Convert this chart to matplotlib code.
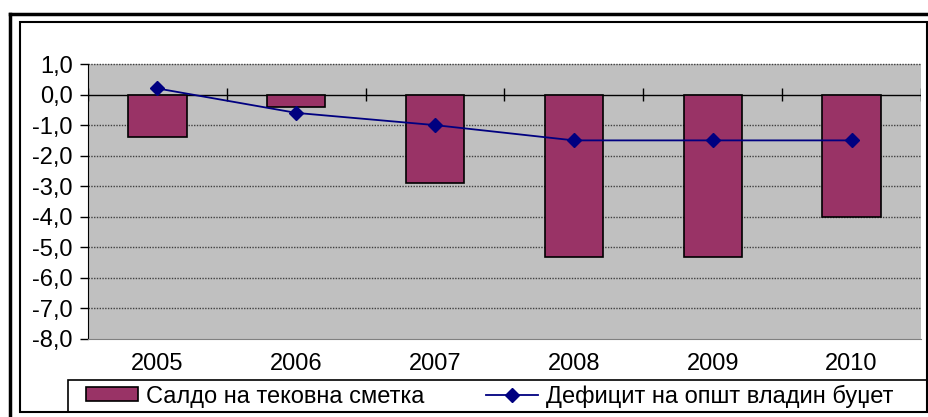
import matplotlib.pyplot as plt
from matplotlib.patches import Rectangle
from matplotlib.lines import Line2D

plt.rcParams['font.family'] = ['Liberation Sans', 'DejaVu Sans']

years = ["2005", "2006", "2007", "2008", "2009", "2010"]
saldo = [-1.4, -0.4, -2.9, -5.3, -5.3, -4.0]
deficit = [0.2, -0.6, -1.0, -1.5, -1.5, -1.5]
yticks = [1, 0, -1, -2, -3, -4, -5, -6, -7, -8]

W, H = 929, 417
fs = 17
fig = plt.figure(figsize=(W / 100, H / 100), dpi=100)

# frames around the chart
fig.add_artist(Line2D([10 / W, 10 / W], [0, 1 - 14 / H], color="black", lw=2.5))
fig.add_artist(Line2D([10 / W, 1], [1 - 14 / H, 1 - 14 / H], color="black", lw=2.5))
fig.add_artist(Rectangle((20 / W, 5 / H), 907 / W, 1 - 27 / H, fill=False,
                         edgecolor="black", lw=1.5))
# legend box
fig.add_artist(Rectangle((68 / W, 5 / H), (927 - 68) / W, 32 / H, fill=False,
                         edgecolor="black", lw=1.2))

ax = fig.add_axes([88 / W, 1 - 339 / H, (921 - 88) / W, (339 - 64) / H])
ax.set_facecolor("#C0C0C0")

x = list(range(len(years)))
bars = ax.bar(x, saldo, width=0.42, color="#993366", edgecolor="black", lw=1.2,
              label="Салдо на тековна сметка", zorder=3)
line, = ax.plot(x, deficit, color="#000080", lw=1.3, marker="D", markersize=7,
                label="Дефицит на општ владин буџет", zorder=4)

ax.set_xlim(-0.5, len(years) - 0.5)
ax.set_ylim(-8, 1)

for yv in yticks[:-1]:
    if yv != 0:
        ax.axhline(yv, color="#404040", lw=1, linestyle=(0, (1, 1)), zorder=1,
                   clip_on=False)
ax.axhline(0, color="black", lw=1, zorder=2)
bounds = [i - 0.5 for i in range(len(years) + 1)]
ax.vlines(bounds, -0.2, 0.2, color="black", lw=1, zorder=2)

ax.set_yticks(yticks)
ax.set_yticklabels([f"{v:.1f}".replace(".", ",") for v in yticks], fontsize=fs)
ax.set_xticks(x)
ax.set_xticklabels(years, fontsize=fs)
ax.tick_params(axis="x", length=0, pad=10)
ax.tick_params(axis="y", direction="out", length=6, width=1, pad=5)

ax.spines["right"].set_visible(False)
ax.spines["top"].set_visible(False)
ax.spines["bottom"].set_color("#808080")
ax.spines["left"].set_color("black")

leg = fig.legend([bars, line], [bars.get_label(), line.get_label()],
                 loc="center left", bbox_to_anchor=(86 / W, 21 / H),
                 ncol=2, fontsize=fs, frameon=False,
                 handlelength=2.2, handleheight=0.55,
                 borderaxespad=0, borderpad=0, columnspacing=2.6, handletextpad=0.35)

fig.savefig("out.png", dpi=100)
